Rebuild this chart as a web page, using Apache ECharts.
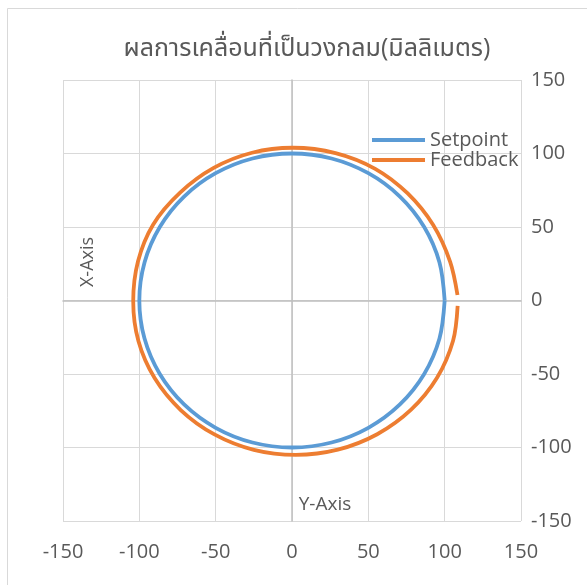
<!DOCTYPE html>
<html>
<head>
<meta charset="utf-8">
<script src="https://cdn.jsdelivr.net/npm/echarts@6/dist/echarts.min.js"></script>
<style>
  html, body { margin: 0; padding: 0; background: #fff; }
  #chart { width: 587px; height: 585px; }
</style>
</head>
<body>
<div id="chart"></div>
<script>
// Commanded circular path (mm)
const setpointX = [100, 96.6, 86.6, 70.7, 50, 25.9, 0, -25.9, -50, -70.7, -86.6, -96.6, -100,
  -96.6, -86.6, -70.7, -50, -25.9, 0, 25.9, 50, 70.7, 86.6, 96.6, 100];
const setpointY = [0, 25.9, 50, 70.7, 86.6, 96.6, 100, 96.6, 86.6, 70.7, 50, 25.9, 0,
  -25.9, -50, -70.7, -86.6, -96.6, -100, -96.6, -86.6, -70.7, -50, -25.9, 0];

// Measured path (mm)
const feedbackX = [108.4, 103.6, 92.5, 75.8, 54.5, 28.5, 0.5, -26.2, -51.3, -73.3, -91.0, -100.9, -104.0,
  -100.6, -90.0, -72.9, -50.8, -25.0, 2.5, 30.0, 55.8, 78.0, 95.0, 105.5, 108.5];
const feedbackY = [3.7, 26.3, 51.3, 72.8, 89.6, 100.3, 103.9, 100.5, 90.2, 73.4, 51.6, 26.5, -0.5,
  -27.6, -52.8, -74.5, -91.1, -101.6, -105.0, -101.5, -91.0, -74.3, -52.6, -27.4, -3.7];

const axisMin = -150, axisMax = 150, axisStep = 50;
const titleText = 'ผลการเคลื่อนที่เป็นวงกลม(มิลลิเมตร)';
const seriesNames = ['Setpoint', 'Feedback'];
const verticalAxisName = 'X-Axis';
const horizontalAxisName = 'Y-Axis';

const FONT = "'Open Sans', 'Noto Sans', 'Noto Sans Thai', 'Leelawadee UI', 'Tahoma', sans-serif";
const TEXT = '#595959';

const pairs = (xs, ys) => xs.map((x, i) => [x, ys[i]]);

const chart = echarts.init(document.getElementById('chart'), null, { renderer: 'canvas' });

const gridLine = { show: true, lineStyle: { color: '#d9d9d9', width: 1 } };
const zeroLine = { show: true, onZero: true, lineStyle: { color: '#bfbfbf', width: 1.5 } };

chart.setOption({
  animation: false,
  backgroundColor: '#fff',
  title: {
    text: titleText,
    left: 302,
    top: 31,
    textAlign: 'center',
    textStyle: { color: TEXT, fontSize: 25, fontWeight: 'normal', fontFamily: FONT }
  },
  legend: {
    orient: 'vertical',
    left: 372,
    top: 130,
    padding: 0,
    itemWidth: 53,
    itemHeight: 3.8,
    itemGap: 0,
    icon: 'rect',
    data: seriesNames,
    textStyle: { color: TEXT, fontSize: 20, fontFamily: FONT, lineHeight: 20 }
  },
  grid: { left: 63, top: 80, right: 66, bottom: 64, containLabel: false },
  xAxis: [
    {
      type: 'value', min: axisMin, max: axisMax, interval: axisStep,
      axisLine: zeroLine, axisTick: { show: false }, axisLabel: { show: false },
      splitLine: gridLine
    },
    {
      type: 'value', min: axisMin, max: axisMax, interval: axisStep, position: 'bottom',
      axisLine: { show: false, onZero: false }, axisTick: { show: false }, splitLine: { show: false },
      axisLabel: { color: TEXT, fontSize: 20, fontFamily: FONT, margin: 21 }
    }
  ],
  yAxis: [
    {
      type: 'value', min: axisMin, max: axisMax, interval: axisStep,
      axisLine: zeroLine, axisTick: { show: false }, axisLabel: { show: false },
      splitLine: gridLine
    },
    {
      type: 'value', min: axisMin, max: axisMax, interval: axisStep, position: 'right',
      axisLine: { show: false, onZero: false }, axisTick: { show: false }, splitLine: { show: false },
      axisLabel: { color: TEXT, fontSize: 20, fontFamily: FONT, margin: 10, align: 'left' }
    }
  ],
  graphic: [
    {
      type: 'rect', silent: true, z: -1,
      shape: { x: 7.5, y: 8.5, width: 700, height: 700 },
      style: { fill: null, stroke: '#d9d9d9', lineWidth: 1 }
    },
    {
      type: 'text', silent: true,
      x: 88, y: 262, rotation: Math.PI / 2,
      style: { text: verticalAxisName, fill: TEXT, fontSize: 18, fontFamily: FONT, align: 'center', verticalAlign: 'middle' }
    },
    {
      type: 'text', silent: true,
      x: 325, y: 505,
      style: { text: horizontalAxisName, fill: TEXT, fontSize: 19, fontFamily: FONT, align: 'center', verticalAlign: 'middle' }
    }
  ],
  series: [
    {
      name: seriesNames[0], type: 'line', xAxisIndex: 0, yAxisIndex: 0,
      data: pairs(setpointX, setpointY),
      showSymbol: false, smooth: 0.33, z: 3,
      lineStyle: { color: '#5B9BD5', width: 3.8 },
      itemStyle: { color: '#5B9BD5' }
    },
    {
      name: seriesNames[1], type: 'line', xAxisIndex: 0, yAxisIndex: 0,
      data: pairs(feedbackX, feedbackY),
      showSymbol: false, smooth: 0.33, z: 4,
      lineStyle: { color: '#ED7D31', width: 3.8 },
      itemStyle: { color: '#ED7D31' }
    }
  ]
});
</script>
</body>
</html>
